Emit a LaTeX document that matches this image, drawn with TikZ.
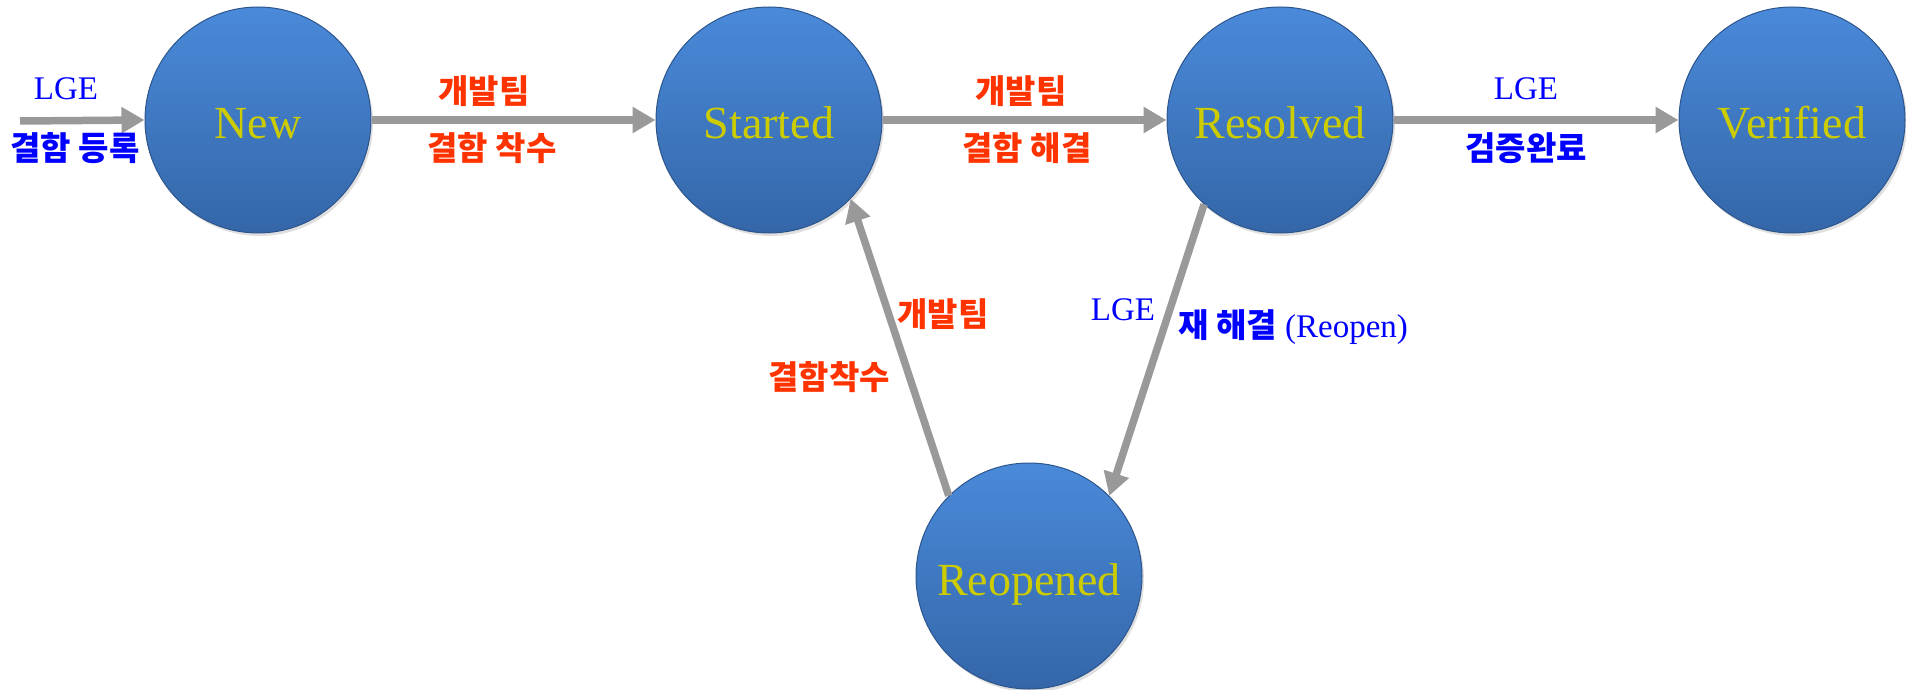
\documentclass[tikz,border=0pt]{standalone}
\usepackage{fontspec}
\setmainfont{Liberation Serif}
\newfontfamily\korfont{Noto Sans CJK KR}
\usetikzlibrary{arrows.meta,shadows}

\definecolor{lgeblue}{RGB}{0,0,255}
\definecolor{devred}{RGB}{255,51,0}
\definecolor{stateyel}{RGB}{204,204,0}
\definecolor{arrgray}{RGB}{153,153,153}
\definecolor{balltop}{RGB}{74,138,218}
\definecolor{ballbot}{RGB}{52,102,168}
\definecolor{balledge}{RGB}{45,85,140}

\tikzset{
  state/.style={circle, minimum size=226pt, inner sep=0pt,
    top color=balltop, bottom color=ballbot, draw=balledge, line width=1pt,
    drop shadow={opacity=0.25, shadow xshift=2pt, shadow yshift=-3pt},
    text=stateyel, text height=38pt, text depth=0pt,
    font=\fontsize{46}{50}\selectfont},
  flow/.style={draw=arrgray, line width=7.5pt, -{Triangle[length=23pt,width=25pt]}},
  lge/.style={text=lgeblue, font=\fontsize{33}{36}\selectfont},
  lgek/.style={text=lgeblue, font=\korfont\bfseries\fontsize{33}{36}\selectfont},
  dev/.style={text=devred, font=\korfont\bfseries\fontsize{33}{36}\selectfont}
}

\begin{document}
\begin{tikzpicture}[x=1pt,y=-1pt]
\useasboundingbox (0,0) rectangle (1906,690);

\node[state] (new) at (258,120) {New};
\node[state] (sta) at (769,120) {Started};
\node[state] (res) at (1280,120) {Resolved};
\node[state] (ver) at (1792,120) {Verified};
\node[state] (reo) at (1029,576) {Reopened};

% entry
\coordinate (entry) at (20,121);
\draw[flow] (entry) -- (new.west);
\node[lge] (lgeIn) at (66,89) {LGE};
\node[lgek] (regIn) at (75,148) {결함 등록};

% main line
\draw[flow] (new.east) -- (sta.west);
\node[dev] (devA) at (484,91) {개발팀};
\node[dev] (begA) at (492,148) {결함 착수};

\draw[flow] (sta.east) -- (res.west);
\node[dev] (devB) at (1021,91) {개발팀};
\node[dev] (fixB) at (1027,148) {결함 해결};

\draw[flow] (res.east) -- (ver.west);
\node[lge] (lgeC) at (1526,89) {LGE};
\node[lgek] (okC) at (1526,148) {검증완료};

% reopen loop
\draw[flow] (res.228) -- (reo.45);
\node[lge] (lgeD) at (1123,310) {LGE};
\node[lge, anchor=west, inner sep=0pt] (reD) at (1178,327) {{\korfont\bfseries 재 해결} (Reopen)};

\draw[flow] (reo.135) -- (sta.-44);
\node[dev] (devE) at (943,314) {개발팀};
\node[dev] (begE) at (829,377) {결함착수};
\end{tikzpicture}
\end{document}
